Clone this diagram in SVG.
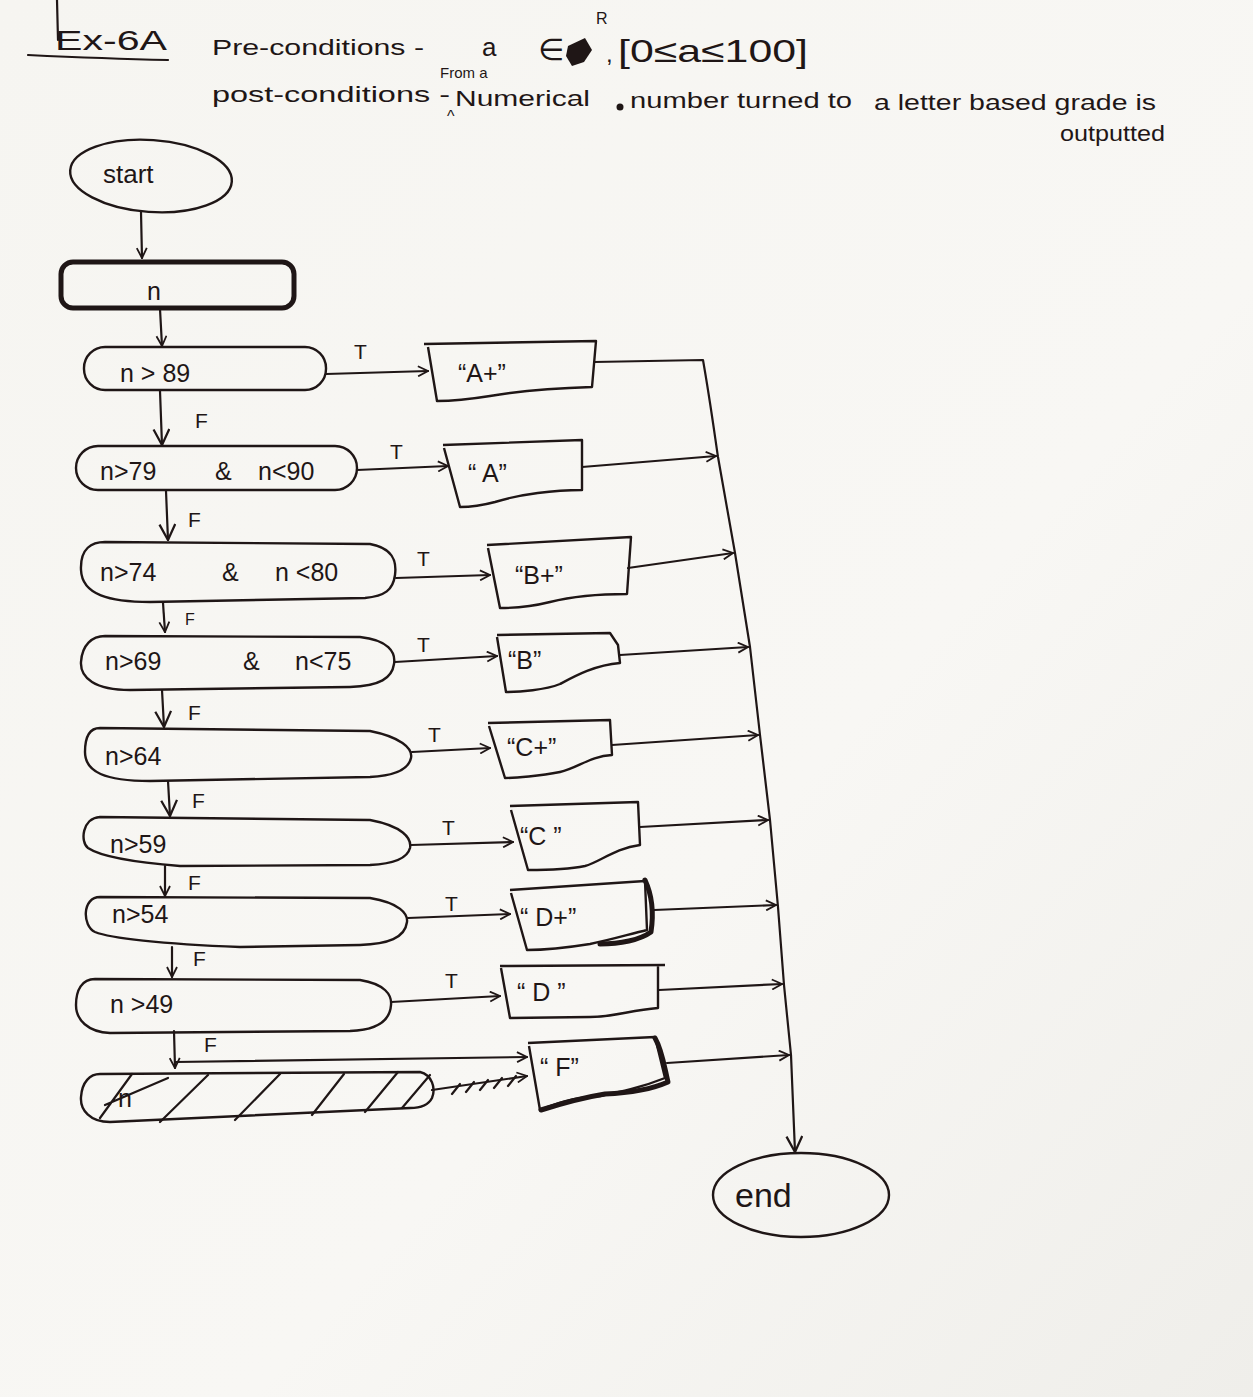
<svg xmlns="http://www.w3.org/2000/svg" width="1253" height="1397" viewBox="0 0 1253 1397">
  <defs>
    <linearGradient id="paper" x1="0" y1="0" x2="1" y2="1">
      <stop offset="0" stop-color="#f6f5f1"/>
      <stop offset="0.6" stop-color="#f8f7f4"/>
      <stop offset="1" stop-color="#efeeea"/>
    </linearGradient>
    <marker id="arr" viewBox="0 0 12 12" refX="11" refY="6" markerWidth="12" markerHeight="12" markerUnits="userSpaceOnUse" orient="auto">
      <path d="M1,1 L11,6 L1,11" fill="none" stroke="#1f1616" stroke-width="1.8"/>
    </marker>
    <marker id="arrBig" viewBox="0 0 16 16" refX="15" refY="8" markerWidth="18" markerHeight="18" markerUnits="userSpaceOnUse" orient="auto">
      <path d="M1,1 L15,8 L1,15" fill="none" stroke="#1f1616" stroke-width="2"/>
    </marker>
  </defs>
  <style>
    .ink { fill: none; stroke: #1f1616; stroke-width: 2.2; stroke-linecap: round; stroke-linejoin: round; }
    .heavy { fill: none; stroke: #1f1616; stroke-width: 5; stroke-linecap: round; stroke-linejoin: round; }
    .shape { fill: none; stroke: #1f1616; stroke-width: 2.4; stroke-linejoin: round; }
    .txt { font-family: "Liberation Sans", "DejaVu Sans", sans-serif; fill: #1f1616; }
    .node { font-size: 25px; }
    .lbl { font-size: 21px; }
    .head { font-size: 22px; }
  </style>

  <rect width="1253" height="1397" fill="url(#paper)"/>

  <!-- header: exercise title, pre- and post-conditions -->
  <g id="header">
    <path class="ink" d="M57,0 L58,40"/>
    <text class="txt" x="55" y="50" font-size="28" textLength="112" lengthAdjust="spacingAndGlyphs">Ex-6A</text>
    <path class="ink" d="M28,55 C70,57 120,59 168,60"/>
    <text class="txt head" x="212" y="55" textLength="212" lengthAdjust="spacingAndGlyphs">Pre-conditions -</text>
    <text class="txt" x="482" y="56" font-size="26">a</text>
    <text class="txt" x="538" y="60" font-size="30">∈</text>
    <path d="M568,46 L585,38 L592,50 L584,62 L572,66 L566,56 Z" fill="#1f1616"/>
    <text class="txt" x="596" y="24" font-size="16">R</text>
    <text class="txt" x="606" y="62" font-size="24">,</text>
    <text class="txt" x="618" y="62" font-size="32" textLength="190" lengthAdjust="spacingAndGlyphs">[0≤a≤100]</text>
    <text class="txt" x="440" y="78" font-size="15">From a</text>
    <text class="txt head" x="212" y="102" font-size="20" textLength="238" lengthAdjust="spacingAndGlyphs">post-conditions -</text>
    <text class="txt" x="447" y="122" font-size="16">^</text>
    <text class="txt head" x="455" y="106" textLength="135" lengthAdjust="spacingAndGlyphs">Numerical</text>
    <circle cx="620" cy="107" r="3.5" fill="#1f1616"/>
    <text class="txt head" x="630" y="108" textLength="222" lengthAdjust="spacingAndGlyphs">number turned to</text>
    <text class="txt head" x="874" y="110" textLength="282" lengthAdjust="spacingAndGlyphs">a letter based grade is</text>
    <text class="txt head" x="1060" y="141" textLength="105" lengthAdjust="spacingAndGlyphs">outputted</text>
  </g>

  <!-- terminals -->
  <g id="start">
    <ellipse class="shape" cx="151" cy="176" rx="81" ry="36" transform="rotate(4 151 176)"/>
    <text class="txt" x="103" y="183" font-size="26">start</text>
  </g>
  <g id="end">
    <ellipse class="shape" cx="801" cy="1195" rx="88" ry="42"/>
    <text class="txt" x="735" y="1207" font-size="34">end</text>
  </g>

  <!-- input -->
  <g id="input-n">
    <rect class="heavy" x="61" y="262" width="233" height="46" rx="12"/>
    <text class="txt node" x="147" y="300">n</text>
  </g>

  <!-- decisions -->
  <g id="dec-89">
    <rect class="shape" x="84" y="347" width="242" height="43" rx="21"/>
    <text class="txt node" x="120" y="382">n &gt; 89</text>
  </g>
  <g id="dec-79">
    <rect class="shape" x="76" y="446" width="281" height="44" rx="22"/>
    <text class="txt node" y="480"><tspan x="100">n&gt;79</tspan><tspan x="215">&amp;</tspan><tspan x="258">n&lt;90</tspan></text>
  </g>
  <g id="dec-74">
    <path class="shape" d="M105,542 L370,544 C392,548 397,560 395,575 C393,590 385,596 365,598 L150,602 C110,602 82,595 81,570 C80,548 92,542 105,542 Z"/>
    <text class="txt node" y="581"><tspan x="100">n&gt;74</tspan><tspan x="222">&amp;</tspan><tspan x="275">n &lt;80</tspan></text>
  </g>
  <g id="dec-69">
    <path class="shape" d="M105,636 L360,637 C388,640 396,652 394,664 C392,678 380,686 350,687 L130,690 C95,690 80,678 81,662 C82,645 92,636 105,636 Z"/>
    <text class="txt node" y="670"><tspan x="105">n&gt;69</tspan><tspan x="243">&amp;</tspan><tspan x="295">n&lt;75</tspan></text>
  </g>
  <g id="dec-64">
    <path class="shape" d="M100,728 L370,731 C400,737 413,748 411,758 C408,772 390,776 370,777 L150,781 C105,781 85,772 85,752 C85,736 90,728 100,728 Z"/>
    <text class="txt node" x="105" y="765">n&gt;64</text>
  </g>
  <g id="dec-59">
    <path class="shape" d="M100,817 L370,820 C402,826 412,838 410,848 C407,860 390,864 370,865 L180,866 C130,862 100,856 88,848 C80,842 82,818 100,817 Z"/>
    <text class="txt node" x="110" y="853">n&gt;59</text>
  </g>
  <g id="dec-54">
    <path class="shape" d="M100,897 L370,898 C400,903 408,914 407,922 C405,938 388,944 360,945 L240,947 C160,944 110,938 95,932 C82,926 82,897 100,897 Z"/>
    <text class="txt node" x="112" y="923">n&gt;54</text>
  </g>
  <g id="dec-49">
    <path class="shape" d="M95,979 L360,980 C385,984 392,995 391,1005 C390,1020 378,1030 350,1031 L110,1033 C88,1032 76,1020 76,1005 C76,990 82,979 95,979 Z"/>
    <text class="txt node" x="110" y="1013">n &gt;49</text>
  </g>

  <!-- struck-through process box -->
  <g id="proc-n">
    <path class="shape" d="M100,1074 L420,1072 C432,1075 436,1088 432,1098 C428,1106 420,1108 410,1108 L110,1122 C90,1122 80,1110 81,1097 C82,1082 90,1074 100,1074 Z"/>
    <text class="txt node" x="118" y="1107">n</text>
    <path class="ink" d="M100,1118 L132,1074 M105,1105 L168,1078 M160,1122 L208,1075 M235,1120 L280,1074 M312,1115 L344,1074 M365,1112 L398,1072 M402,1108 L430,1075"/>
  </g>

  <!-- grade outputs -->
  <g id="out-Aplus">
    <path class="shape" d="M424,344 L596,341 L592,387 C560,388 520,391 490,396 C465,400 450,401 437,401 L428,347"/>
    <text class="txt node" x="458" y="382">“A+”</text>
  </g>
  <g id="out-A">
    <path class="shape" d="M443,445 L582,440 L582,490 C555,490 520,494 495,502 C480,506 470,507 460,507 L444,448"/>
    <text class="txt node" x="468" y="482">“ A”</text>
  </g>
  <g id="out-Bplus">
    <path class="shape" d="M487,545 L631,537 L627,594 C600,594 570,597 550,602 C530,607 515,608 500,608 L488,548"/>
    <text class="txt node" x="515" y="584">“B+”</text>
  </g>
  <g id="out-B">
    <path class="shape" d="M497,635 L610,633 L618,645 L620,663 C595,665 575,676 560,684 C545,690 520,692 506,692 L497,637"/>
    <text class="txt node" x="508" y="669">“B”</text>
  </g>
  <g id="out-Cplus">
    <path class="shape" d="M488,723 L610,720 L612,755 C590,756 578,768 560,772 C540,776 515,778 505,778 L489,726"/>
    <text class="txt node" x="507" y="756">“C+”</text>
  </g>
  <g id="out-C">
    <path class="shape" d="M510,806 L638,802 L640,845 C615,848 600,862 585,866 C565,870 540,870 528,870 L511,810"/>
    <text class="txt node" x="520" y="845">“C ”</text>
  </g>
  <g id="out-Dplus">
    <path class="shape" d="M510,890 L645,881 L647,930 C630,934 610,940 590,944 C565,948 540,950 527,950 L511,893"/>
    <path class="heavy" d="M645,880 C652,895 654,912 651,932 C640,940 620,944 600,944"/>
    <text class="txt node" x="520" y="926">“ D+”</text>
  </g>
  <g id="out-D">
    <path class="shape" d="M500,966 L665,965 M658,965 L658,1008 C630,1010 615,1017 590,1017 L510,1018 L501,968"/>
    <text class="txt node" x="517" y="1001">“ D ”</text>
  </g>
  <g id="out-F">
    <path class="shape" d="M528,1043 L655,1037 L665,1078 C640,1088 620,1092 600,1096 C570,1098 555,1104 540,1110 L529,1046"/>
    <path class="heavy" d="M655,1038 C662,1050 664,1065 668,1082 C650,1090 630,1093 605,1094 C580,1098 560,1104 541,1110"/>
    <text class="txt node" x="540" y="1076">“ F”</text>
  </g>

  <!-- connectors -->
  <g id="connectors">
    <!-- main flow -->
    <path class="ink" d="M141,212 L142,258" marker-end="url(#arr)"/>
    <path class="ink" d="M160,309 L162,346" marker-end="url(#arr)"/>
    <path class="ink" d="M160,391 L162,445" marker-end="url(#arrBig)"/>
    <path class="ink" d="M166,491 L168,540" marker-end="url(#arrBig)"/>
    <path class="ink" d="M163,603 L165,632" marker-end="url(#arr)"/>
    <path class="ink" d="M162,690 L164,727" marker-end="url(#arrBig)"/>
    <path class="ink" d="M168,781 L170,816" marker-end="url(#arrBig)"/>
    <path class="ink" d="M165,866 L165,896" marker-end="url(#arr)"/>
    <path class="ink" d="M172,947 L172,977" marker-end="url(#arr)"/>
    <path class="ink" d="M174,1031 L175,1068" marker-end="url(#arr)"/>
    <path class="ink" d="M175,1062 L527,1057" marker-end="url(#arr)"/>

    <!-- true branches -->
    <path class="ink" d="M326,374 L428,371" marker-end="url(#arr)"/>
    <path class="ink" d="M357,470 L448,466" marker-end="url(#arr)"/>
    <path class="ink" d="M396,578 L490,575" marker-end="url(#arr)"/>
    <path class="ink" d="M395,662 L497,656" marker-end="url(#arr)"/>
    <path class="ink" d="M412,752 L490,748" marker-end="url(#arr)"/>
    <path class="ink" d="M411,845 L513,842" marker-end="url(#arr)"/>
    <path class="ink" d="M408,918 L510,914" marker-end="url(#arr)"/>
    <path class="ink" d="M391,1002 L500,996" marker-end="url(#arr)"/>
    <path class="ink" d="M432,1090 L527,1076" marker-end="url(#arr)"/>
    <path class="ink" d="M452,1094 L460,1084 M466,1092 L474,1082 M480,1090 L488,1080 M494,1088 L502,1078 M508,1086 L516,1076"/>

    <!-- outputs to end -->
    <path class="ink" d="M594,362 L703,360 C710,400 714,430 718,457 L735,553 L750,647 L760,735 L770,820 L778,907 L784,985 L791,1055 L795,1152" marker-end="url(#arrBig)"/>
    <path class="ink" d="M582,467 L716,456" marker-end="url(#arr)"/>
    <path class="ink" d="M628,568 L733,553" marker-end="url(#arr)"/>
    <path class="ink" d="M620,655 L748,647" marker-end="url(#arr)"/>
    <path class="ink" d="M612,745 L758,735" marker-end="url(#arr)"/>
    <path class="ink" d="M640,827 L768,820" marker-end="url(#arr)"/>
    <path class="ink" d="M654,910 L776,905" marker-end="url(#arr)"/>
    <path class="ink" d="M659,990 L782,984" marker-end="url(#arr)"/>
    <path class="ink" d="M667,1063 L789,1055" marker-end="url(#arr)"/>

    <!-- branch labels -->
    <g class="txt lbl">
      <text x="354" y="359">T</text>
      <text x="390" y="459">T</text>
      <text x="417" y="566">T</text>
      <text x="417" y="652">T</text>
      <text x="428" y="742">T</text>
      <text x="442" y="835">T</text>
      <text x="445" y="911">T</text>
      <text x="445" y="988">T</text>
      <text x="195" y="428">F</text>
      <text x="188" y="527">F</text>
      <text x="185" y="625" font-size="16">F</text>
      <text x="188" y="720">F</text>
      <text x="192" y="808">F</text>
      <text x="188" y="890">F</text>
      <text x="193" y="966">F</text>
      <text x="204" y="1052">F</text>
    </g>
  </g>
</svg>
